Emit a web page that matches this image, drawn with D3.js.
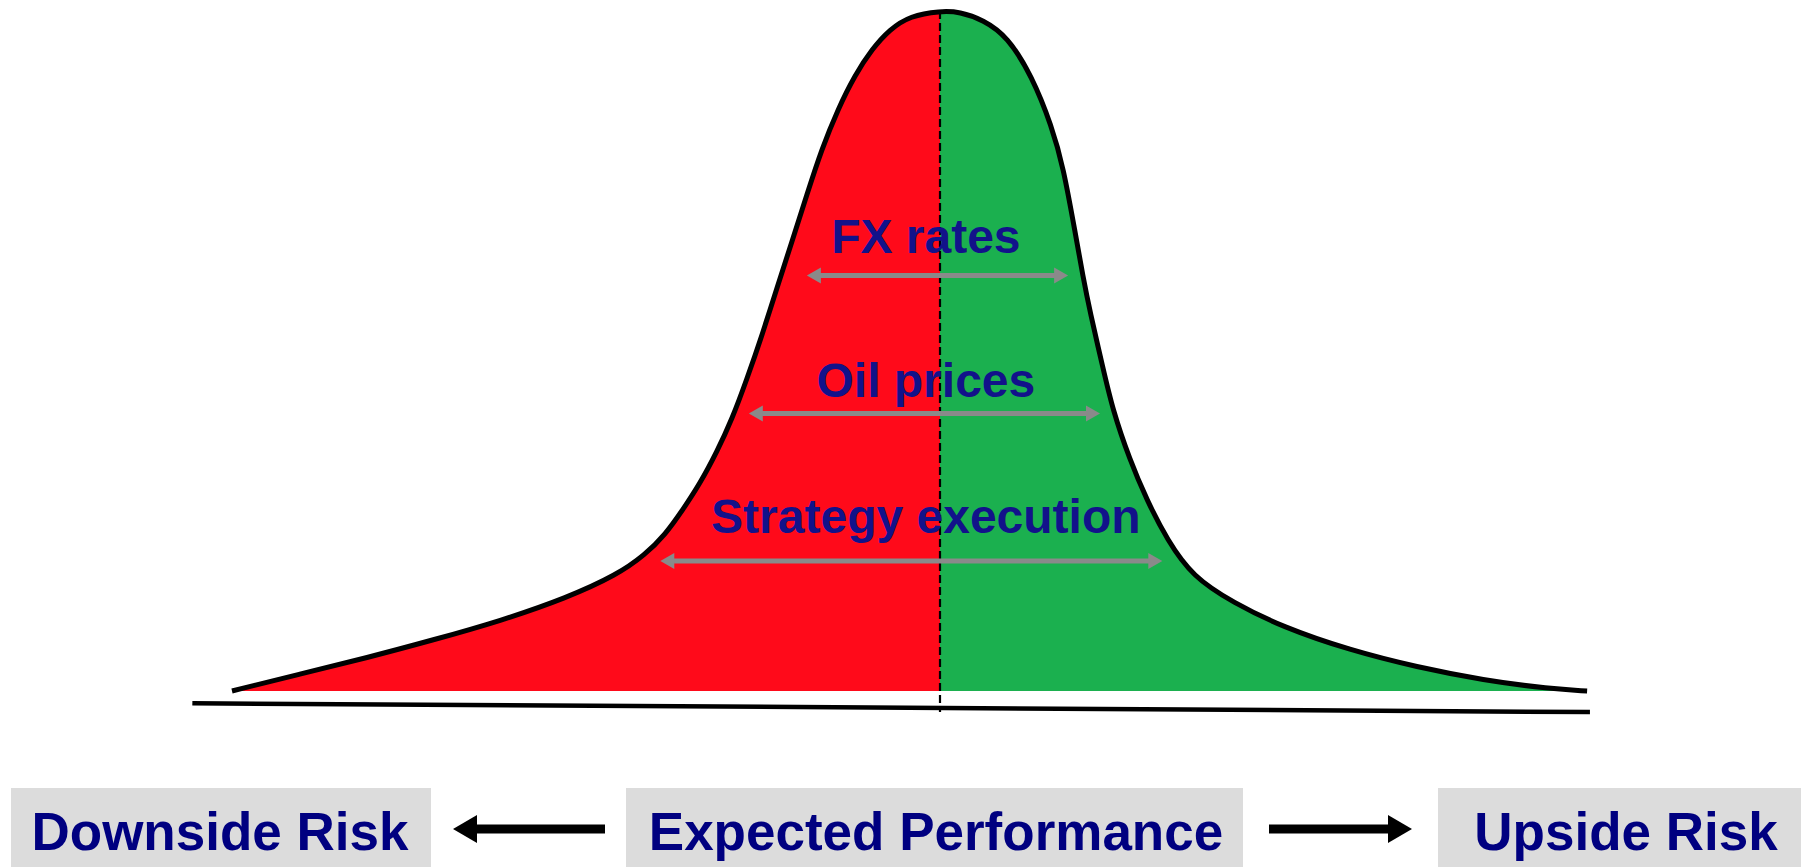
<!DOCTYPE html>
<html>
<head>
<meta charset="utf-8">
<script src="https://cdn.jsdelivr.net/npm/d3@7/dist/d3.min.js"></script>
<style>
  html, body { margin: 0; padding: 0; background: #ffffff; }
  svg { display: block; }
</style>
</head>
<body>
<script>
// Performance outcome (centre = expected) and relative likelihood of each outcome
const outcome = [-1.000, -0.904, -0.809, -0.716, -0.621, -0.527, -0.456, -0.417, -0.388, -0.363,
                 -0.339, -0.315, -0.294, -0.273, -0.251, -0.230, -0.209, -0.188, -0.167, -0.144,
                 -0.120, -0.096, -0.071, -0.042,  0.000,  0.028,  0.061,  0.095,  0.130,  0.158,
                  0.174,  0.191,  0.202,  0.212,  0.230,  0.244,  0.268,  0.292,  0.321,  0.357,
                  0.414,  0.484,  0.579,  0.674,  0.767,  0.862,  0.914];
const density = [0.000, 0.025, 0.049, 0.075, 0.103, 0.137, 0.171, 0.200, 0.230, 0.267,
                 0.305, 0.352, 0.399, 0.458, 0.524, 0.594, 0.661, 0.730, 0.797, 0.856,
                 0.906, 0.944, 0.973, 0.993, 1.000, 0.999, 0.987, 0.963, 0.904, 0.830,
                 0.771, 0.674, 0.609, 0.557, 0.476, 0.413, 0.340, 0.281, 0.222, 0.168,
                 0.130, 0.094, 0.060, 0.035, 0.016, 0.003, 0.000];

// Risk drivers: range of outcome each one spans, and the level it is drawn at
const drivers     = ["FX rates", "Oil prices", "Strategy execution"];
const driverLow   = [-0.188, -0.270, -0.395];
const driverHigh  = [0.181, 0.226, 0.314];
const driverLevel = [0.611, 0.408, 0.191];
const labelLevel  = [0.644, 0.432, 0.233];
const labelCentre = -0.020;

// Outcome axis extent
const axisFrom = { x: -1.056, y: -0.018 };
const axisTo   = { x: 0.918,  y: -0.031 };

// Scenario captions along the bottom
const scenarios = ["Downside Risk", "Expected Performance", "Upside Risk"];

const W = 1801, H = 867;
const svg = d3.select("body").append("svg")
  .attr("width", W).attr("height", H)
  .attr("viewBox", `0 0 ${W} ${H}`);

svg.append("rect").attr("width", W).attr("height", H).attr("fill", "#ffffff");

const x = d3.scaleLinear().domain([-1, 1]).range([232, 1648]);
const y = d3.scaleLinear().domain([0, 1]).range([691, 11]);

const pts = outcome.map((v, i) => ({ x: v, y: density[i] }));

const defs = svg.append("defs");
defs.append("clipPath").attr("id", "clip-down")
  .append("rect").attr("x", 0).attr("y", 0).attr("width", x(0)).attr("height", H);
defs.append("clipPath").attr("id", "clip-up")
  .append("rect").attr("x", x(0)).attr("y", 0).attr("width", W - x(0)).attr("height", H);

const area = d3.area()
  .x(d => x(d.x)).y0(y(0)).y1(d => y(d.y))
  .curve(d3.curveBasis);
const line = d3.line()
  .x(d => x(d.x)).y(d => y(d.y))
  .curve(d3.curveBasis);

svg.append("path").datum(pts).attr("d", area)
  .attr("fill", "#ff0a1a").attr("clip-path", "url(#clip-down)");
svg.append("path").datum(pts).attr("d", area)
  .attr("fill", "#1bb04f").attr("clip-path", "url(#clip-up)");

// Expected-performance divider
svg.append("line")
  .attr("x1", x(0)).attr("x2", x(0))
  .attr("y1", y(1.0)).attr("y2", y(axisTo.y))
  .attr("stroke", "#000").attr("stroke-width", 2.2)
  .attr("stroke-dasharray", "8,4");

// Distribution outline
svg.append("path").datum(pts).attr("d", line)
  .attr("fill", "none").attr("stroke", "#000").attr("stroke-width", 5)
  .attr("stroke-linejoin", "round");

// Outcome axis
svg.append("line")
  .attr("x1", x(axisFrom.x)).attr("y1", y(axisFrom.y))
  .attr("x2", x(axisTo.x)).attr("y2", y(axisTo.y))
  .attr("stroke", "#000").attr("stroke-width", 4.5);

// Driver arrows and labels
const grey = "#8a8a8a";
function headPath(tipX, tipY, dir, len, half) {
  return `M${tipX},${tipY} L${tipX - dir * len},${tipY - half} L${tipX - dir * len},${tipY + half} Z`;
}
drivers.forEach((name, i) => {
  const yy = y(driverLevel[i]);
  const x1 = x(driverLow[i]), x2 = x(driverHigh[i]);
  svg.append("line")
    .attr("x1", x1 + 10).attr("x2", x2 - 10)
    .attr("y1", yy).attr("y2", yy)
    .attr("stroke", grey).attr("stroke-width", 5);
  svg.append("path").attr("d", headPath(x1, yy, -1, 14, 8)).attr("fill", grey);
  svg.append("path").attr("d", headPath(x2, yy, 1, 14, 8)).attr("fill", grey);
  svg.append("text")
    .attr("x", x(labelCentre)).attr("y", y(labelLevel[i]))
    .attr("text-anchor", "middle")
    .attr("font-family", "'Liberation Sans', Arial, sans-serif")
    .attr("font-weight", "bold").attr("font-size", 48)
    .attr("fill", "#12128a")
    .text(name);
});

// Bottom captions
const boxes = [
  { x0: 11,   x1: 431,  cx: 220 },
  { x0: 626,  x1: 1243, cx: 936 },
  { x0: 1438, x1: 1801, cx: 1626 }
];
scenarios.forEach((s, i) => {
  const b = boxes[i];
  svg.append("rect")
    .attr("x", b.x0).attr("y", 788).attr("width", b.x1 - b.x0).attr("height", H - 788)
    .attr("fill", "#dcdcdc");
  svg.append("text")
    .attr("x", b.cx).attr("y", 850)
    .attr("text-anchor", "middle")
    .attr("font-family", "'Liberation Sans', Arial, sans-serif")
    .attr("font-weight", "bold").attr("font-size", 53)
    .attr("fill", "#000080")
    .text(s);
});

// Black direction arrows between captions
function bigArrow(xTail, xTip, yy) {
  const dir = Math.sign(xTip - xTail);
  const headLen = 24, half = 14;
  svg.append("line")
    .attr("x1", xTail).attr("x2", xTip - dir * headLen + dir * 2)
    .attr("y1", yy).attr("y2", yy)
    .attr("stroke", "#000").attr("stroke-width", 9);
  svg.append("path").attr("d", headPath(xTip, yy, dir, headLen, half)).attr("fill", "#000");
}
bigArrow(605, 453, 829);
bigArrow(1269, 1412, 829);
</script>
</body>
</html>
